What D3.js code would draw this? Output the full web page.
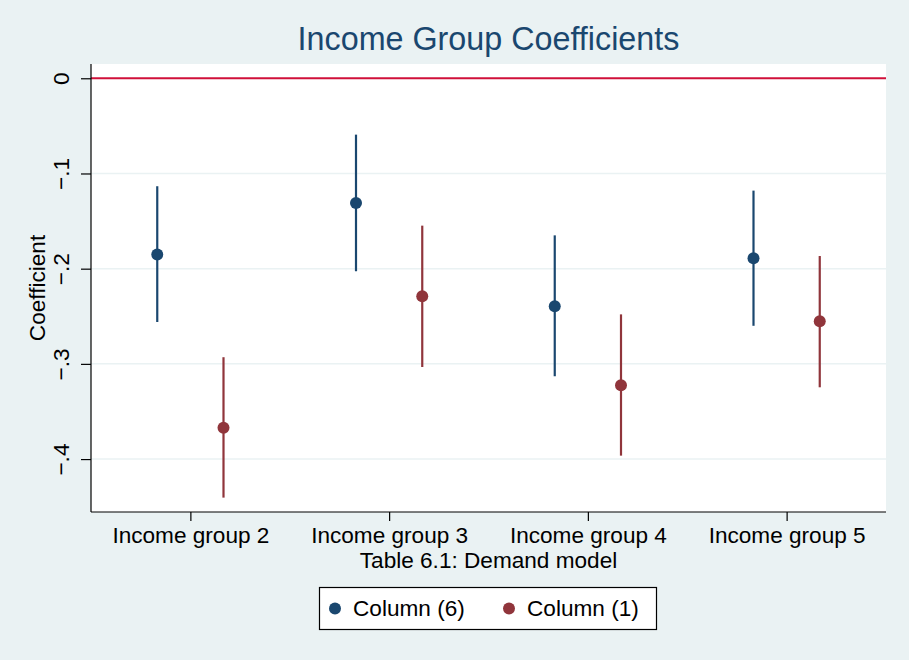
<!DOCTYPE html>
<html>
<head>
<meta charset="utf-8">
<script src="https://cdn.jsdelivr.net/npm/d3@7"></script>
<style>
  html, body { margin: 0; padding: 0; background: #eaf2f3; }
  svg { display: block; font-family: "Liberation Sans", Arial, Helvetica, sans-serif; }
</style>
</head>
<body>
<svg id="chart" width="909" height="660"></svg>
<script>
// Income groups on the x axis (numeric positions 2..5)
const groups = [2, 3, 4, 5];
const groupLabels = ["Income group 2", "Income group 3", "Income group 4", "Income group 5"];

// Column (6) estimates with 95% interval
const col6Coef = [-0.185, -0.131, -0.2395, -0.189];
const col6Lo   = [-0.256, -0.2027, -0.313, -0.260];
const col6Hi   = [-0.1134, -0.0592, -0.165, -0.118];

// Column (1) estimates with 95% interval
const col1Coef = [-0.367, -0.229, -0.3225, -0.2553];
const col1Lo   = [-0.4405, -0.3033, -0.3964, -0.3246];
const col1Hi   = [-0.293, -0.1548, -0.248, -0.1867];

const yTicks = [0, -0.1, -0.2, -0.3, -0.4];
const yTickLabels = ["0", "\u2212.1", "\u2212.2", "\u2212.3", "\u2212.4"];

const seriesNames = ["Column (6)", "Column (1)"];
const colors = ["#1a476f", "#90353b"];
const offsets = [-1 / 6, 1 / 6];

const W = 909, H = 660;
const plot = { left: 91, right: 886, top: 64, bottom: 512 };
const fs = 22.6;

const svg = d3.select("#chart");
svg.append("rect").attr("width", W).attr("height", H).attr("fill", "#eaf2f3");
svg.append("rect")
  .attr("x", plot.left).attr("y", plot.top)
  .attr("width", plot.right - plot.left).attr("height", plot.bottom - plot.top)
  .attr("fill", "#ffffff");

const x = d3.scaleLinear().domain([1.5, 5.5]).range([plot.left, plot.right]);
const y = d3.scaleLinear().domain([-0.4556, 0.015]).range([plot.bottom, plot.top]);

// Horizontal grid lines
svg.append("g").selectAll("line").data(yTicks.slice(1)).join("line")
  .attr("x1", plot.left).attr("x2", plot.right)
  .attr("y1", d => y(d)).attr("y2", d => y(d))
  .attr("stroke", "#eaf2f3").attr("stroke-width", 1.5);

// Reference line at zero
svg.append("line")
  .attr("x1", plot.left).attr("x2", plot.right)
  .attr("y1", y(0)).attr("y2", y(0))
  .attr("stroke", "#d0103a").attr("stroke-width", 2);

// Y axis
const yAxis = d3.axisLeft(y).tickValues(yTicks)
  .tickFormat((d, i) => yTickLabels[i]).tickSize(10).tickPadding(0);
const gy = svg.append("g").attr("transform", `translate(${plot.left},0)`).call(yAxis);
gy.select(".domain").attr("stroke", "#000").attr("stroke-width", 1.2)
  .attr("d", `M0,${plot.top}V${plot.bottom}`);
gy.selectAll(".tick line").attr("stroke", "#000").attr("stroke-width", 1.2);
gy.selectAll(".tick text")
  .attr("font-size", fs).attr("fill", "#000")
  .attr("text-anchor", "middle").attr("x", null).attr("dy", null)
  .attr("transform", "translate(-22,0) rotate(-90)");

// X axis
const xAxis = d3.axisBottom(x).tickValues(groups)
  .tickFormat((d, i) => groupLabels[i]).tickSize(9).tickPadding(6);
const gx = svg.append("g").attr("transform", `translate(0,${plot.bottom})`).call(xAxis);
gx.select(".domain").attr("stroke", "#000").attr("stroke-width", 1.2)
  .attr("d", `M${plot.left},0H${plot.right}`);
gx.selectAll(".tick line").attr("stroke", "#000").attr("stroke-width", 1.2);
gx.selectAll(".tick text").attr("font-size", fs).attr("fill", "#000");

// Axis titles
svg.append("text").attr("x", (plot.left + plot.right) / 2).attr("y", 568)
  .attr("text-anchor", "middle").attr("font-size", fs).attr("fill", "#000")
  .text("Table 6.1: Demand model");
svg.append("text")
  .attr("transform", `translate(45,${(plot.top + plot.bottom) / 2}) rotate(-90)`)
  .attr("text-anchor", "middle").attr("font-size", fs).attr("fill", "#000")
  .text("Coefficient");

// Chart title
svg.append("text").attr("x", (plot.left + plot.right) / 2).attr("y", 50)
  .attr("text-anchor", "middle").attr("font-size", 32.3).attr("fill", "#1a476f")
  .text("Income Group Coefficients");

// Coefficient series: interval spikes and point estimates
const series = [
  { coef: col6Coef, lo: col6Lo, hi: col6Hi },
  { coef: col1Coef, lo: col1Lo, hi: col1Hi }
];
series.forEach((s, k) => {
  const rows = groups.map((g, i) => ({ g, c: s.coef[i], lo: s.lo[i], hi: s.hi[i] }));
  const g = svg.append("g");
  g.selectAll("line").data(rows).join("line")
    .attr("x1", d => x(d.g + offsets[k])).attr("x2", d => x(d.g + offsets[k]))
    .attr("y1", d => y(d.lo)).attr("y2", d => y(d.hi))
    .attr("stroke", colors[k]).attr("stroke-width", 2.2);
  g.selectAll("circle").data(rows).join("circle")
    .attr("cx", d => x(d.g + offsets[k])).attr("cy", d => y(d.c))
    .attr("r", 6).attr("fill", colors[k]);
});

// Legend
const legend = svg.append("g");
legend.append("rect").attr("x", 319.5).attr("y", 587.5).attr("width", 337).attr("height", 42)
  .attr("fill", "#fff").attr("stroke", "#000").attr("stroke-width", 1.2);
const legendX = [335, 509];
seriesNames.forEach((name, k) => {
  legend.append("circle").attr("cx", legendX[k]).attr("cy", 608.5).attr("r", 6).attr("fill", colors[k]);
  legend.append("text").attr("x", legendX[k] + 18).attr("y", 616)
    .attr("font-size", fs).attr("fill", "#000").text(name);
});
</script>
</body>
</html>
